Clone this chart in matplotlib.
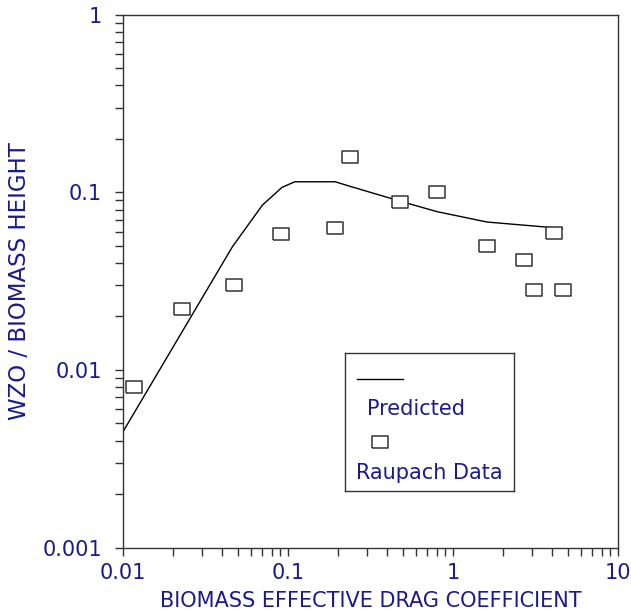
import numpy as np
import matplotlib
matplotlib.use("Agg")
import matplotlib.pyplot as plt
from matplotlib.ticker import LogLocator, FixedFormatter, FixedLocator, NullFormatter

# Raupach measurements
raupach_x = [0.0117, 0.0228, 0.047, 0.091, 0.193, 0.238, 0.477, 0.80, 1.61, 2.69, 3.1, 4.1, 4.64]
raupach_y = [0.0080, 0.0220, 0.0300, 0.0582, 0.0630, 0.158, 0.088, 0.1005, 0.0499, 0.0416, 0.0282, 0.059, 0.0282]

# predicted curve
pred_x = [0.01, 0.046, 0.07, 0.092, 0.11, 0.193, 0.238, 0.477, 0.80, 1.61, 4.6]
pred_y = [0.00449, 0.0493, 0.0847, 0.1066, 0.1146, 0.1146, 0.108, 0.0892, 0.0778, 0.068, 0.0626]

xticks = [0.01, 0.1, 1, 10]
xtick_labels = ["0.01", "0.1", "1", "10"]
yticks = [0.001, 0.01, 0.1, 1]
ytick_labels = ["0.001", "0.01", "0.1", "1"]

txt = "#1a1a8a"
edge = "#333333"
plt.rcParams['font.family'] = ['DejaVu Sans']
fs = 15

# rectangle marker, wider than tall
rect = [(-0.7, -0.5), (0.7, -0.5), (0.7, 0.5), (-0.7, 0.5), (-0.7, -0.5)]

fig = plt.figure(figsize=(6.31, 6.14), dpi=100)
ax = fig.add_axes([0.1949, 0.1081, 0.7845, 0.8681])

ax.plot(pred_x, pred_y, color="black", lw=1.0)
ax.plot(raupach_x, raupach_y, linestyle="none", marker=rect, ms=11.5,
        mfc="white", mec=edge, mew=1.1)

ax.set_xscale("log")
ax.set_yscale("log")
ax.set_xlim(0.01, 10)
ax.set_ylim(0.001, 1)

ax.xaxis.set_major_locator(FixedLocator(xticks))
ax.xaxis.set_major_formatter(FixedFormatter(xtick_labels))
ax.yaxis.set_major_locator(FixedLocator(yticks))
ax.yaxis.set_major_formatter(FixedFormatter(ytick_labels))
ax.xaxis.set_minor_locator(LogLocator(base=10, subs=np.arange(2, 10)))
ax.yaxis.set_minor_locator(LogLocator(base=10, subs=np.arange(2, 10)))
ax.xaxis.set_minor_formatter(NullFormatter())
ax.yaxis.set_minor_formatter(NullFormatter())

ax.tick_params(which="both", direction="out", length=6, width=1.0, color=edge,
               top=False, right=False)
ax.tick_params(axis="x", which="major", pad=5, labelsize=fs, labelcolor=txt)
ax.tick_params(axis="y", which="major", pad=9, labelsize=fs, labelcolor=txt)
for s in ax.spines.values():
    s.set_color(edge)
    s.set_linewidth(1.0)

ax.set_xlabel("BIOMASS EFFECTIVE DRAG COEFFICIENT", fontsize=fs, color=txt, labelpad=6)
ax.set_ylabel("WZO / BIOMASS HEIGHT", fontsize=16.5, color=txt, labelpad=8)

# legend box drawn as a small axes
lg = fig.add_axes([0.5468, 0.2003, 0.2678, 0.2248])
lg.set_xlim(0, 1)
lg.set_ylim(0, 1)
lg.set_xticks([])
lg.set_yticks([])
for s in lg.spines.values():
    s.set_color(edge)
    s.set_linewidth(1.0)
lg.plot([0.069, 0.345], [0.812, 0.812], color="black", lw=1.0)
lg.text(0.128, 0.594, "Predicted", fontsize=fs, color=txt, va="center", ha="left")
lg.plot([0.207], [0.355], linestyle="none", marker=rect, ms=11.5,
        mfc="white", mec=edge, mew=1.1)
lg.text(0.065, 0.13, "Raupach Data", fontsize=fs, color=txt, va="center", ha="left")

fig.savefig("out.png", dpi=100)
